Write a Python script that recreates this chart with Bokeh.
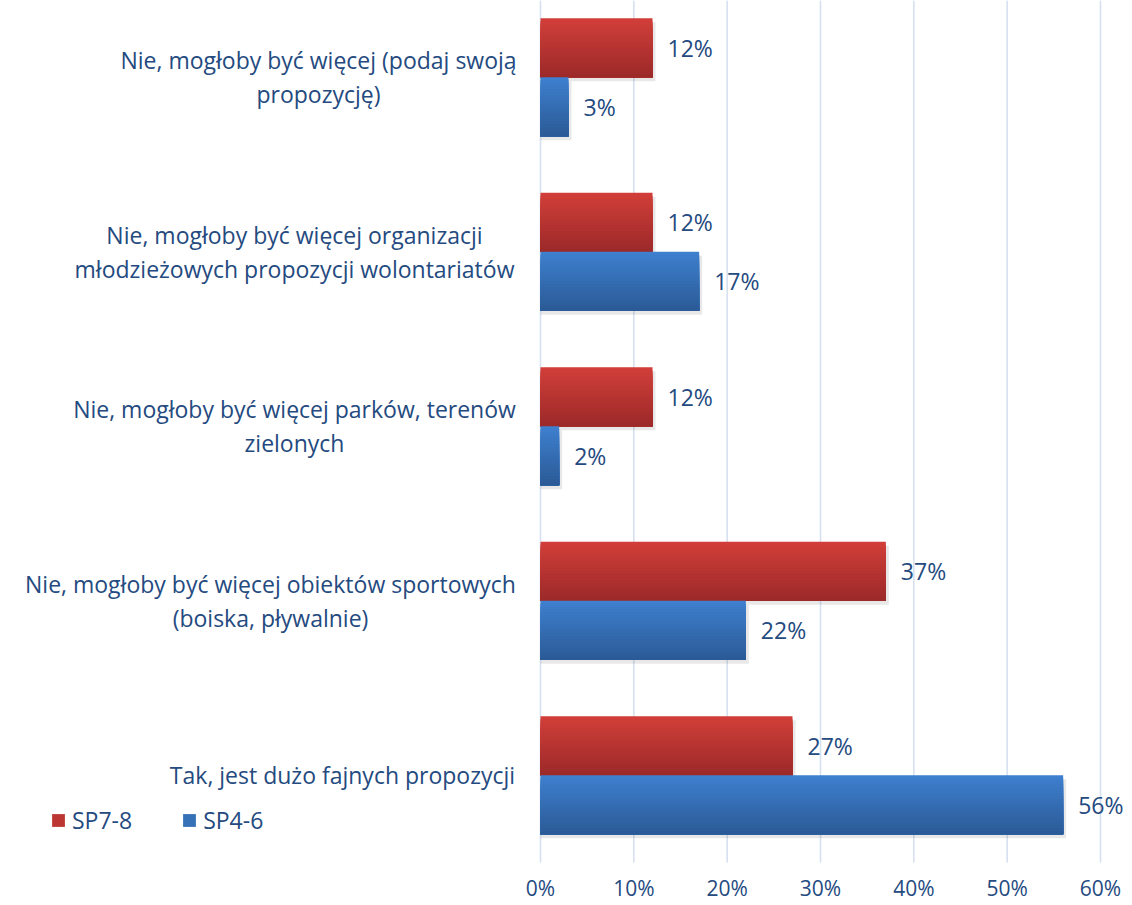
from bokeh.plotting import figure
from bokeh.models import Range1d, Label, Legend, LegendItem, ColumnDataSource
from bokeh.core.properties import value
from bokeh.embed import file_html
from bokeh.resources import INLINE

# ---------------- data ----------------
categories = [
    "Nie, mogłoby być więcej (podaj swoją\npropozycję)",
    "Nie, mogłoby być więcej organizacji\nmłodzieżowych propozycji wolontariatów",
    "Nie, mogłoby być więcej parków, terenów\nzielonych",
    "Nie, mogłoby być więcej obiektów sportowych\n(boiska, pływalnie)",
    "Tak, jest dużo fajnych propozycji",
]
series_names = ["SP7-8", "SP4-6"]
sp78 = [12, 12, 12, 37, 27]
sp46 = [3, 17, 2, 22, 56]
x_ticks = [0, 10, 20, 30, 40, 50, 60]
x_tick_labels = ["0%", "10%", "20%", "30%", "40%", "50%", "60%"]

# ---------------- style ----------------
FONT = "Open Sans"
FS_CAT = "23px"
FS_VAL = "23px"
FS_TICK = "21px"
TXT = "#244A80"
GRID = "#D6E1F0"
red_top, red_bot = (209, 62, 57), (156, 42, 41)
blue_top, blue_bot = (62, 127, 206), (43, 91, 151)
BAR_H = 0.338
N_SLICES = 20
label_centers_px = [318, 294, 294, 270, 342]   # horizontal centre of category label blocks (page px)
W, H = 1132, 905
ZERO_PX = 540
PX_PER_UNIT_X = 9.3333
PLOT_BOTTOM_PX = 862
PX_PER_UNIT_Y = 174.5
TICK_LABEL_PX = 887

def lerp(c1, c2, t):
    return "#%02x%02x%02x" % tuple(int(round(a + (b - a) * t)) for a, b in zip(c1, c2))

n = len(categories)
ypos = [n - 1 - i for i in range(n)]
y_bottom = -0.5
y_start = y_bottom - (H - PLOT_BOTTOM_PX) / PX_PER_UNIT_Y
y_end = y_bottom + PLOT_BOTTOM_PX / PX_PER_UNIT_Y

p = figure(width=W, height=H, output_backend="svg", toolbar_location=None,
           x_range=Range1d(-ZERO_PX / PX_PER_UNIT_X, (W - ZERO_PX) / PX_PER_UNIT_X),
           y_range=Range1d(y_start, y_end),
           min_border_left=0, min_border_right=0, min_border_top=0, min_border_bottom=0)
p.outline_line_color = None
p.background_fill_color = "white"
p.border_fill_color = "white"
p.xaxis.visible = False
p.yaxis.visible = False
p.xgrid.visible = False
p.ygrid.visible = False

# value-axis grid lines and tick labels
p.segment(x0=x_ticks, x1=x_ticks, y0=[y_bottom] * len(x_ticks), y1=[y_end] * len(x_ticks),
          line_color=GRID, line_width=1.6)
tick_y = y_bottom - (TICK_LABEL_PX - PLOT_BOTTOM_PX) / PX_PER_UNIT_Y
p.text(x=x_ticks, y=[tick_y] * len(x_ticks), text=x_tick_labels,
       text_align="center", text_baseline="middle", text_color=TXT,
       text_font=value(FONT), text_font_size=FS_TICK)

# bars (vertical gradient by stacked slices) + soft shadows
sh = dict(top=[], bottom=[], right=[])
sl = dict(top=[], bottom=[], right=[], color=[])
lab = dict(x=[], y=[], text=[])
dy_sh = 4 / PX_PER_UNIT_Y
dx_sh = 3 / PX_PER_UNIT_X
for vals, off, ctop, cbot in ((sp78, BAR_H / 2, red_top, red_bot), (sp46, -BAR_H / 2, blue_top, blue_bot)):
    for yc, v in zip(ypos, vals):
        c = yc + off
        top, bot = c + BAR_H / 2, c - BAR_H / 2
        sh["top"].append(top - dy_sh)
        sh["bottom"].append(bot - dy_sh)
        sh["right"].append(v + dx_sh)
        for k in range(N_SLICES):
            sl["top"].append(top - k * BAR_H / N_SLICES)
            sl["bottom"].append(bot)
            sl["right"].append(v)
            sl["color"].append(lerp(ctop, cbot, k / (N_SLICES - 1)))
        lab["x"].append(v)
        lab["y"].append(c)
        lab["text"].append(f"{v}%")

p.quad(left=0, right="right", top="top", bottom="bottom", source=ColumnDataSource(sh),
       fill_color="black", fill_alpha=0.09, line_color=None)
p.quad(left=0, right="right", top="top", bottom="bottom", source=ColumnDataSource(sl),
       fill_color="color", line_color=None)

p.text(x="x", y="y", text="text", source=ColumnDataSource(lab), x_offset=15,
       text_align="left", text_baseline="middle", text_color=TXT,
       text_font=value(FONT), text_font_size=FS_VAL)

# category labels
for yc, txt, cx in zip(ypos, categories, label_centers_px):
    p.add_layout(Label(x=(cx - ZERO_PX) / PX_PER_UNIT_X, y=yc, text=txt,
                       text_align="center", text_baseline="middle", text_color=TXT,
                       text_font=FONT, text_font_size=FS_CAT, text_line_height=1.05))

# legend
nan = float("nan")
r_red = p.quad(left=[nan], right=[nan], top=[nan], bottom=[nan],
               fill_color=lerp(red_top, red_bot, 0.4), line_color=None)
r_blue = p.quad(left=[nan], right=[nan], top=[nan], bottom=[nan],
                fill_color=lerp(blue_top, blue_bot, 0.4), line_color=None)
legend = Legend(items=[LegendItem(label=series_names[0], renderers=[r_red]),
                       LegendItem(label=series_names[1], renderers=[r_blue])],
                orientation="horizontal", location=(50, 69),
                glyph_width=16, glyph_height=16, label_standoff=6, spacing=49,
                padding=0, margin=0, border_line_color=None, background_fill_alpha=0,
                label_text_font=FONT, label_text_font_size=FS_CAT, label_text_color=TXT,
                label_height=22)
p.add_layout(legend, "center")

open("out.html", "w").write(file_html(p, INLINE))
